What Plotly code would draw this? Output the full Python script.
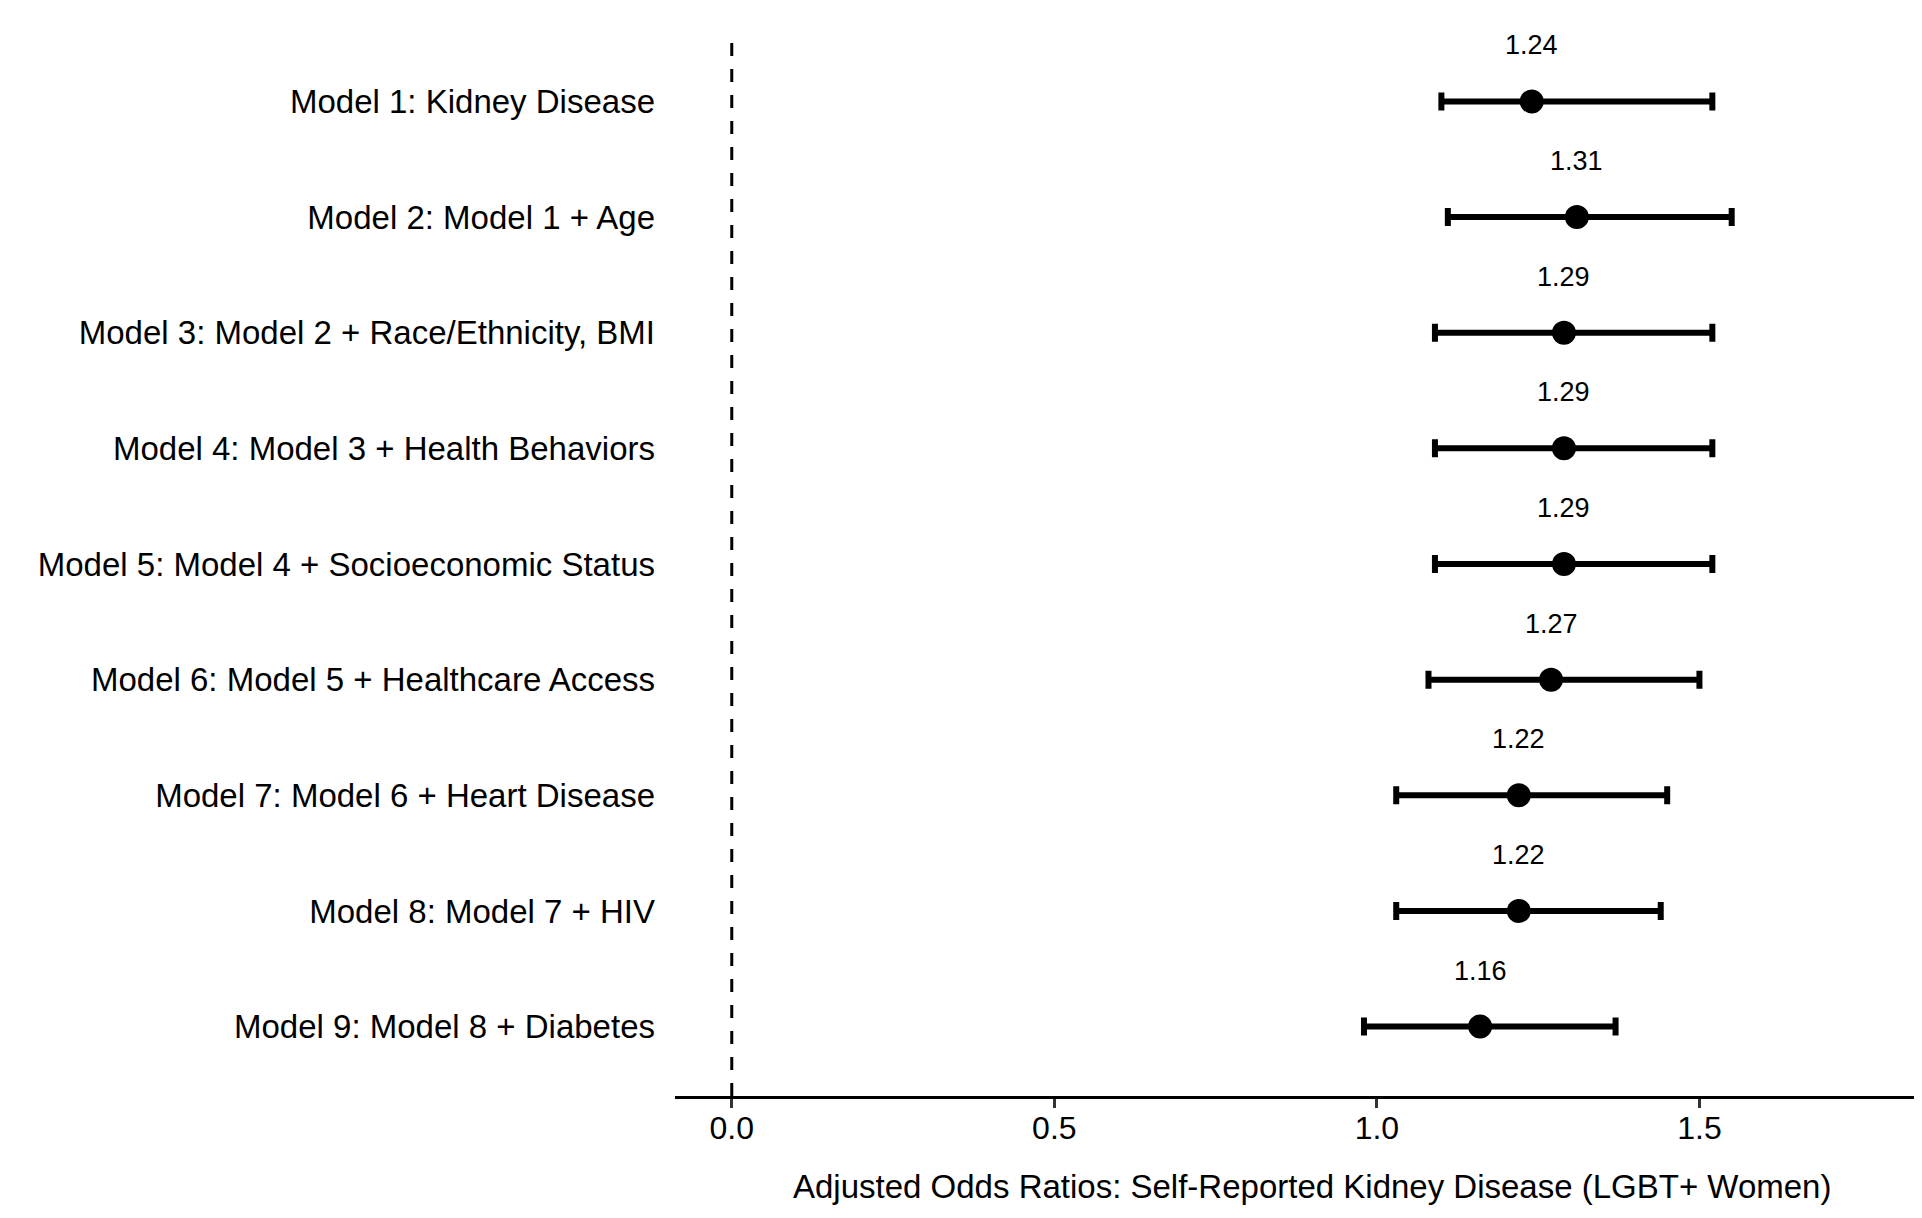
import plotly.graph_objects as go

models = [
    "Model 1: Kidney Disease",
    "Model 2: Model 1 + Age",
    "Model 3: Model 2 + Race/Ethnicity, BMI",
    "Model 4: Model 3 + Health Behaviors",
    "Model 5: Model 4 + Socioeconomic Status",
    "Model 6: Model 5 + Healthcare Access",
    "Model 7: Model 6 + Heart Disease",
    "Model 8: Model 7 + HIV",
    "Model 9: Model 8 + Diabetes",
]
aor = [1.24, 1.31, 1.29, 1.29, 1.29, 1.27, 1.22, 1.22, 1.16]
ci_low = [1.10, 1.11, 1.09, 1.09, 1.09, 1.08, 1.03, 1.03, 0.98]
ci_high = [1.52, 1.55, 1.52, 1.52, 1.52, 1.50, 1.45, 1.44, 1.37]
x_ticks = [0.0, 0.5, 1.0, 1.5]
x_tick_labels = ["0.0", "0.5", "1.0", "1.5"]
x_title = "Adjusted Odds Ratios: Self-Reported Kidney Disease (LGBT+ Women)"

FONT = "Liberation Sans, Arial, sans-serif"

fig = go.Figure()
fig.add_trace(go.Scatter(
    x=aor, y=models, mode="markers",
    marker=dict(size=24, color="black"),
    error_x=dict(type="data", symmetric=False,
                 array=[h - e for h, e in zip(ci_high, aor)],
                 arrayminus=[e - l for e, l in zip(aor, ci_low)],
                 color="black", thickness=6, width=9),
    showlegend=False, hoverinfo="x+y",
))

for m, e in zip(models, aor):
    fig.add_annotation(x=e, y=m, text=f"{e:.2f}", showarrow=False,
                       yshift=56, font=dict(family=FONT, size=27, color="black"))

fig.add_shape(type="line", xref="x", yref="paper", x0=0, x1=0, y0=0, y1=1,
              line=dict(color="black", width=3, dash="13px,13px"))

fig.add_annotation(xref="paper", yref="paper", x=0.5138, y=-0.0852, yanchor="middle",
                   text=x_title, showarrow=False,
                   font=dict(family=FONT, size=33, color="black"))

fig.update_layout(
    width=1906, height=1202,
    paper_bgcolor="white", plot_bgcolor="white",
    margin=dict(l=667, r=0, t=24, b=114),
    font=dict(family=FONT, color="black"),
    xaxis=dict(range=[-0.088, 1.8326], tickvals=x_ticks, ticktext=x_tick_labels,
               showgrid=False, zeroline=False, showline=True, linecolor="black",
               linewidth=3, ticks="outside", ticklen=9, tickwidth=2.5,
               tickcolor="#333333", ticklabelstandoff=-7,
               tickfont=dict(family=FONT, size=32, color="black")),
    yaxis=dict(categoryorder="array", categoryarray=models,
               range=[8.6, -0.6], showgrid=False, zeroline=False, showline=False,
               ticks="", ticklabelstandoff=19,
               tickfont=dict(family=FONT, size=33, color="black")),
)

fig.write_html("out.html")
